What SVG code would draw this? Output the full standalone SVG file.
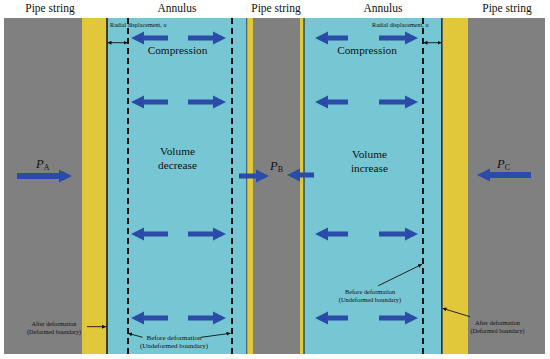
<svg xmlns="http://www.w3.org/2000/svg" xmlns:xlink="http://www.w3.org/1999/xlink" width="550" height="359" viewBox="0 0 550 359">
<style>
.t{font-family:"Liberation Serif","Times New Roman",serif;fill:#111}
.h{font-size:11.5px}
.m{font-size:11.3px}
.s{font-size:6.2px}
.ba{fill:#2b4ba8}
.dash{stroke:#111;stroke-width:2;stroke-dasharray:6,4;fill:none}
.bl{stroke:#111;fill:none}
.ln{stroke:#111;stroke-width:0.9;fill:none}
</style>
<defs>
<marker id="ah" viewBox="0 0 6 6" refX="6" refY="3" markerWidth="4" markerHeight="4" orient="auto-start-reverse" markerUnits="userSpaceOnUse">
<path d="M0,0 L6,3 L0,6 Z" fill="#111"/>
</marker>
<g id="row">
<path class="ba" d="M168,-2.5 H144 V-6.5 L131,0 L144,6.5 V2.5 H168 Z"/>
<path class="ba" d="M188,-2.5 H213 V-6.5 L226,0 L213,6.5 V2.5 H188 Z"/>
<path class="ba" d="M348,-2.5 H328 V-6.5 L315,0 L328,6.5 V2.5 H348 Z"/>
<path class="ba" d="M379,-2.5 H405 V-6.5 L418,0 L405,6.5 V2.5 H379 Z"/>
</g>
</defs>
<rect width="550" height="359" fill="#fff"/>
<g id="pipeA">
<rect x="4" y="18" width="78" height="336" fill="#808080"/>
<rect x="82" y="18" width="25" height="336" fill="#e1c83b"/>
</g>
<g id="annulus1">
<rect x="107" y="18" width="140" height="336" fill="#76c7d3"/>
<line class="bl" x1="107" y1="18" x2="107" y2="354" stroke-width="1.5"/>
<line class="bl" x1="247" y1="18" x2="247" y2="354" stroke-width="1"/>
<line class="dash" x1="128" y1="18" x2="128" y2="354"/>
<line class="dash" x1="232" y1="18" x2="232" y2="354"/>
</g>
<g id="pipeB">
<rect x="247.5" y="18" width="5.5" height="336" fill="#e1c83b"/>
<rect x="253" y="18" width="47" height="336" fill="#808080"/>
<rect x="300" y="18" width="4" height="336" fill="#e1c83b"/>
</g>
<g id="annulus2">
<rect x="304" y="18" width="138" height="336" fill="#76c7d3"/>
<line class="bl" x1="304" y1="18" x2="304" y2="354" stroke-width="1"/>
<line class="bl" x1="442" y1="18" x2="442" y2="354" stroke-width="1.5"/>
<line class="dash" x1="423" y1="18" x2="423" y2="354"/>
</g>
<g id="pipeC">
<rect x="442.8" y="18" width="25.2" height="336" fill="#e1c83b"/>
<rect x="468" y="18" width="77" height="336" fill="#808080"/>
</g>
<g id="labels">
<text class="t h" x="50" y="12" text-anchor="middle">Pipe string</text>
<text class="t h" x="177" y="12" text-anchor="middle">Annulus</text>
<text class="t h" x="276" y="12" text-anchor="middle">Pipe string</text>
<text class="t h" x="383" y="12" text-anchor="middle">Annulus</text>
<text class="t h" x="507" y="12" text-anchor="middle">Pipe string</text>
<text class="t m" x="177.5" y="54" text-anchor="middle" fill="#1a2a3a">Compression</text>
<text class="t m" x="367" y="54" text-anchor="middle">Compression</text>
<text class="t m" x="177.5" y="155" text-anchor="middle">Volume</text>
<text class="t m" x="177.5" y="168.5" text-anchor="middle">decrease</text>
<text class="t m" x="369.5" y="157.5" text-anchor="middle">Volume</text>
<text class="t m" x="369.5" y="171.5" text-anchor="middle">increase</text>
<text class="t" x="36" y="168" font-size="12.5px" font-style="italic">P<tspan font-size="8px" font-style="normal" dy="2">A</tspan></text>
<text class="t" x="270" y="170" font-size="12.5px" font-style="italic">P<tspan font-size="8px" font-style="normal" dy="2">B</tspan></text>
<text class="t" x="497" y="168" font-size="12.5px" font-style="italic">P<tspan font-size="8px" font-style="normal" dy="2">C</tspan></text>
<text class="t s" x="110" y="27">Radial displacement,  <tspan font-style="italic">u</tspan></text>
<text class="t s" x="372" y="26.5">Radial displacement,  <tspan font-style="italic">u</tspan></text>
<text class="t s" x="54" y="326" text-anchor="middle">After deformation</text>
<text class="t s" x="54" y="334" text-anchor="middle">(Deformed boundary)</text>
<text class="t" x="174" y="340" text-anchor="middle" font-size="7px">Before deformation</text>
<text class="t" x="174" y="347.5" text-anchor="middle" font-size="7px">(Undeformed boundary)</text>
<text class="t" x="370" y="293.5" text-anchor="middle" font-size="6.4px">Before deformation</text>
<text class="t" x="370" y="301.5" text-anchor="middle" font-size="6.4px">(Undeformed boundary)</text>
<text class="t s" x="497.5" y="325" text-anchor="middle">After deformation</text>
<text class="t s" x="497.5" y="333" text-anchor="middle">(Deformed boundary)</text>
</g>
<g id="connectors">
<use xlink:href="#row" y="38"/>
<use xlink:href="#row" y="102"/>
<use xlink:href="#row" y="234"/>
<use xlink:href="#row" y="318"/>
<path class="ba" d="M17,173 H59 V169.5 L72,176 L59,182.5 V179 H17 Z"/>
<path class="ba" d="M239,173.5 H256 V169.5 L269,176 L256,182.5 V178.5 H239 Z"/>
<path class="ba" d="M314,172.5 H300 V168.5 L287,175 L300,181.5 V177.5 H314 Z"/>
<path class="ba" d="M531,172 H490 V168.5 L477,175 L490,181.5 V178 H531 Z"/>
<line class="ln" x1="107.5" y1="42.7" x2="127.5" y2="42.7" marker-start="url(#ah)" marker-end="url(#ah)"/>
<line class="ln" x1="423.5" y1="42.7" x2="441.5" y2="42.7" marker-start="url(#ah)" marker-end="url(#ah)"/>
<line class="ln" x1="87" y1="326.7" x2="106" y2="326.7" marker-end="url(#ah)"/>
<line class="ln" x1="142.7" y1="337.3" x2="128" y2="333.3" marker-end="url(#ah)"/>
<line class="ln" x1="201" y1="337.3" x2="230.5" y2="333.3" marker-end="url(#ah)"/>
<line class="ln" x1="378.3" y1="285.7" x2="422" y2="264.3" marker-end="url(#ah)"/>
<line class="ln" x1="470" y1="316.7" x2="442.5" y2="308.3" marker-end="url(#ah)"/>
</g>
</svg>
